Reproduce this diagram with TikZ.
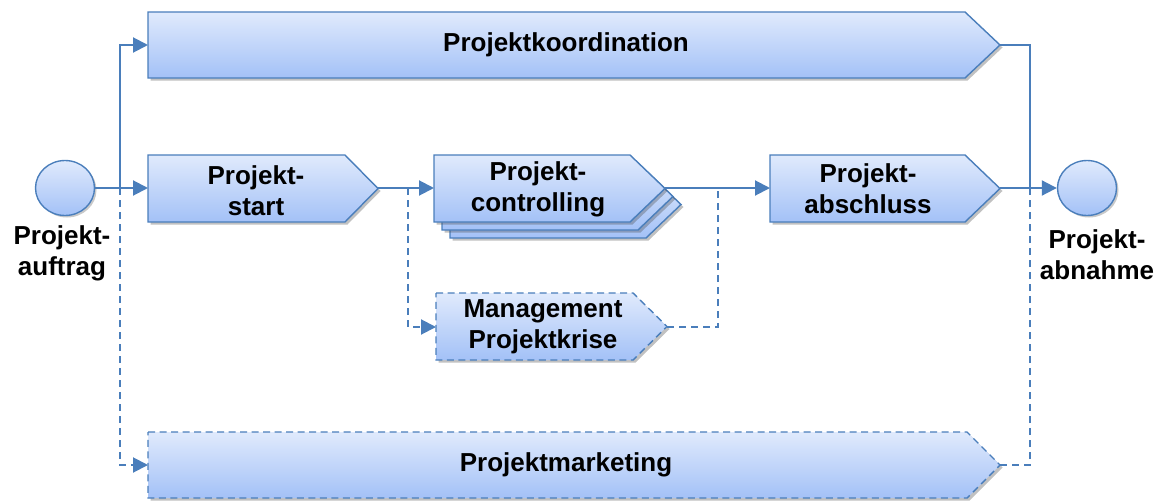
\documentclass[tikz,border=0pt]{standalone}
\usepackage{fontspec}
\setmainfont{Liberation Sans}
\usetikzlibrary{arrows.meta,shadows,shapes.geometric}

\definecolor{edge}{HTML}{4A7EBB}
\definecolor{filltop}{HTML}{E0EAFC}
\definecolor{fillbot}{HTML}{A3C1F7}

\tikzset{
  box/.style={draw=edge, line width=1.4pt, top color=filltop, bottom color=fillbot,
    line join=miter,
    drop shadow={shadow xshift=2.5pt, shadow yshift=-2.5pt, opacity=0.35, fill=black!70}},
  dashedbox/.style={dash pattern=on 7pt off 4.5pt},
  label/.style={font=\bfseries\fontsize{26}{31}\selectfont, align=center, inner sep=0pt},
  conn/.style={draw=edge, line width=2pt},
  dashconn/.style={conn, dash pattern=on 7pt off 5pt},
  tip/.style={-{Triangle[length=15pt,width=15pt]}},
  event/.style={ellipse, draw=edge, line width=1.4pt, top color=filltop, bottom color=fillbot,
    minimum width=59pt, minimum height=55pt, inner sep=0pt,
    drop shadow={shadow xshift=2pt, shadow yshift=-2pt, opacity=0.3, fill=black!70}}
}

% chevron outline: [style] {left}{top}{tip x}{bottom}{tip depth}
\newcommand\chev[6][]{%
  \path[box,#1] (#2,#3) -- ({#4-#6},#3) -- (#4,{(#3+#5)/2}) -- ({#4-#6},#5)
    -- (#2,#5) -- cycle;}

\begin{document}
\begin{tikzpicture}[x=1pt,y=-1pt]
\useasboundingbox (0,0) rectangle (1158,503);

% process shapes
\chev{148}{12}{1000}{78}{35}
\chev{148}{155}{378}{222}{33}
\chev{450}{171}{681}{238}{35}
\chev{442}{163}{673}{230}{35}
\chev{434}{155}{665}{222}{35}
\chev[dashedbox]{436}{293}{667}{360}{34}
\chev{770}{155}{1000}{222}{35}
\chev[dashedbox]{148}{432}{1000}{498}{33}

% anchors of the shapes
\coordinate (koord-in) at (148,45);   \coordinate (koord-out) at (1000,45);
\coordinate (start-in) at (148,188);  \coordinate (start-out) at (378,188);
\coordinate (ctrl-in) at (434,188);   \coordinate (ctrl-out) at (665,188);
\coordinate (krise-in) at (436,327);  \coordinate (krise-out) at (667,327);
\coordinate (absch-in) at (770,188);  \coordinate (absch-out) at (1000,188);
\coordinate (mark-in) at (148,465);   \coordinate (mark-out) at (1000,465);

% texts
\node[label] (koord) at (566,45) {Projektkoordination};
\node[label] (start) at (256,191) {Projekt-\\start};
\node[label] (ctrl) at (538,189) {Projekt-\\controlling};
\node[label] (krise) at (543,327) {Management\\Projektkrise};
\node[label] (absch) at (868,189) {Projekt-\\abschluss};
\node[label] (mark) at (566,465) {Projektmarketing};

% start and end events
\node[event] (auftrag) at (65,188) {};
\node[event] (abnahme) at (1087,188) {};
\node[label] (auftrag-lbl) at (62,253) {Projekt-\\auftrag};
\node[label] (abnahme-lbl) at (1097,255) {Projekt-\\abnahme};

% branch and join points
\coordinate (splitL) at (120,188);
\coordinate (splitM) at (408,188);
\coordinate (joinM) at (718,188);
\coordinate (joinR) at (1030,188);

% connectors
\draw[dashconn,tip] (splitL) |- (mark-in);
\draw[conn,tip] (splitL) |- (koord-in);
\draw[conn,tip] (auftrag.east) -- (start-in);
\draw[dashconn,tip] (splitM) |- (krise-in);
\draw[conn,tip] (start-out) -- (ctrl-in);
\draw[dashconn] (krise-out) -| (joinM);
\draw[conn,tip] (ctrl-out) -- (absch-in);
\draw[dashconn] (mark-out) -| (joinR);
\draw[conn] (koord-out) -| (joinR);
\draw[conn,tip] (absch-out) -- (abnahme.west);
\end{tikzpicture}
\end{document}
